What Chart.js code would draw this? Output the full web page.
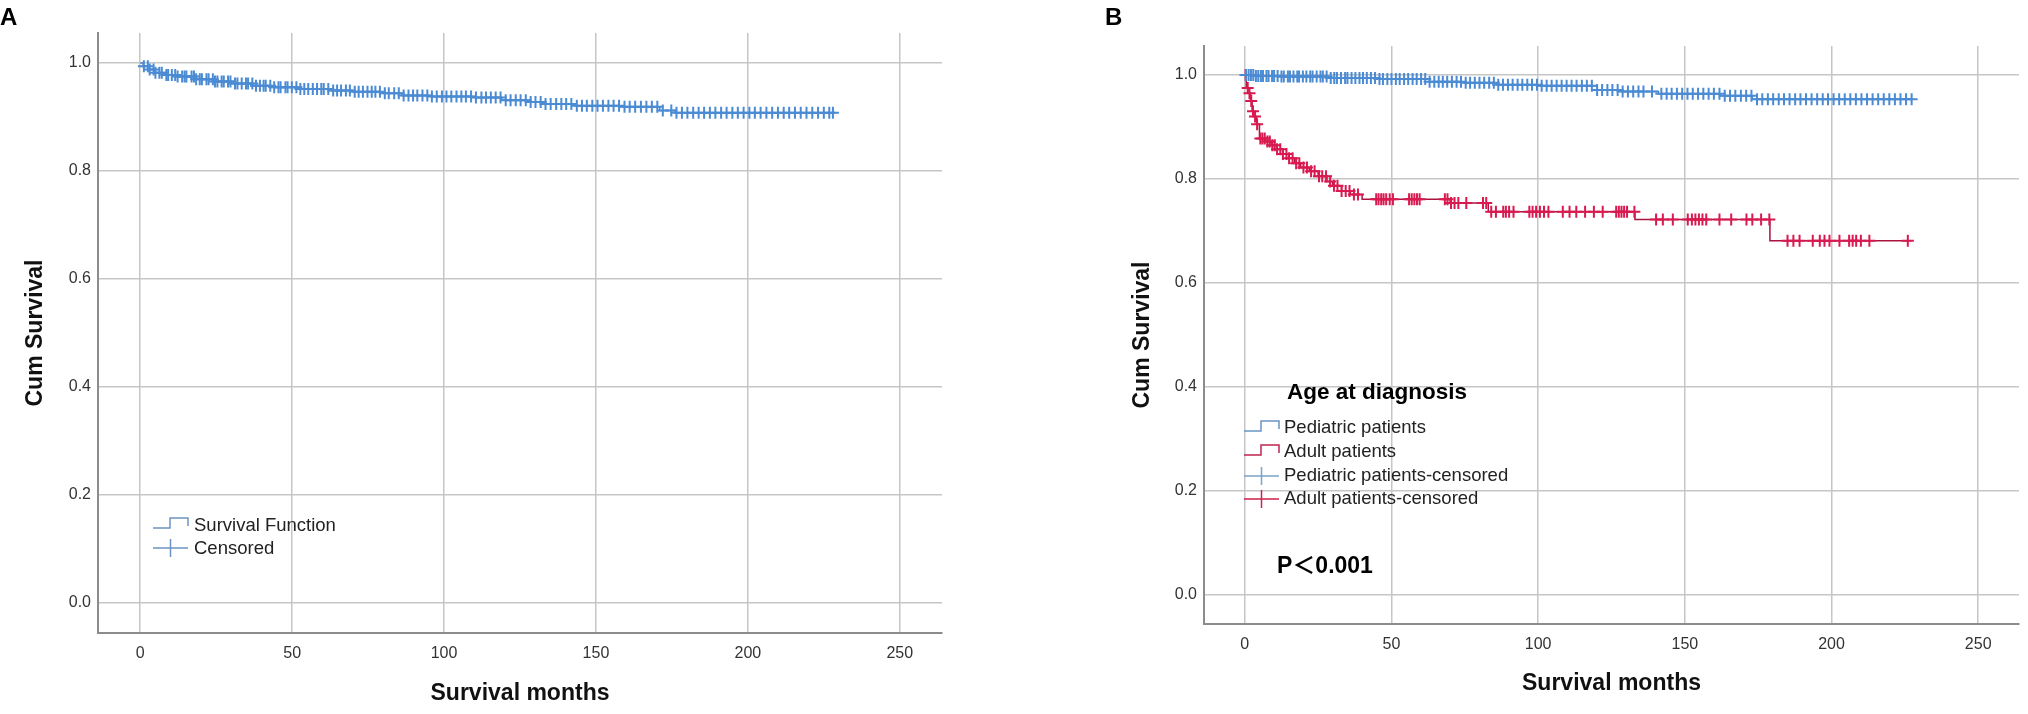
<!DOCTYPE html>
<html>
<head>
<meta charset="utf-8">
<script src="https://cdn.jsdelivr.net/npm/chart.js@4.4.1/dist/chart.umd.min.js"></script>
<style>
  body { margin: 0; background: #fff; width: 2028px; height: 714px; overflow: hidden; position: relative; }
  canvas { position: absolute; top: 0; }
  #cA { left: 0; }
  #cB { left: 1000px; }
</style>
</head>
<body>
<canvas id="cA" width="1000" height="714"></canvas>
<canvas id="cB" width="1028" height="714"></canvas>
<script>
// axis ticks
var monthTicks = [0, 50, 100, 150, 200, 250]
var survTicks = [0, 0.2, 0.4, 0.6, 0.8, 1.0]

// panel A - all patients (step points: time / survival after the drop)
var allTimes = [0, 1, 3, 5, 8, 12, 18, 24, 30, 37, 44, 52, 62, 70, 80, 86, 96, 110, 119, 128, 133, 143, 158, 171, 176, 228]
var allSurv = [1.0, 0.994, 0.988, 0.982, 0.978, 0.975, 0.970, 0.966, 0.962, 0.958, 0.955, 0.952, 0.949, 0.947, 0.944, 0.940, 0.938, 0.936, 0.931, 0.928, 0.924, 0.921, 0.919, 0.912, 0.908, 0.908]
var allCensor = [1.2, 2.5, 3.1, 4.4, 5.0, 6.3, 7.1, 8.6, 9.2, 10.4, 11.5, 12.3, 13.8, 14.6, 15.2, 16.9, 17.7, 18.4, 19.6, 20.3,
    21.8, 22.5, 23.9, 24.6, 25.4, 26.8, 27.5, 28.9, 29.7, 31.2, 32.0, 33.4, 34.8, 35.5, 36.9, 38.1, 39.4, 40.6, 41.3, 42.8,
    44.1, 45.5, 46.2, 47.8, 48.5, 49.9, 51.4, 52.7, 54.0, 55.3, 56.8, 58.2, 59.6, 60.4, 61.9, 63.5, 64.8, 66.1, 67.7, 69.0,
    70.6, 71.9, 73.3, 74.8, 76.2, 77.4, 78.9, 80.5, 81.8, 83.6, 85.1, 86.7, 88.3, 89.8, 91.2, 92.9, 94.5, 96.0, 97.6, 99.3,
    100.8, 102.4, 104.1, 105.7, 107.2, 108.9, 110.5, 112.3, 113.8, 115.4, 117.0, 118.6, 120.3, 121.9, 123.6, 125.2, 126.9,
    128.5, 130.1, 131.8, 133.4, 135.1, 136.9, 138.6, 140.2, 141.9, 143.7, 145.4, 147.0, 148.8, 150.5, 152.3, 154.1, 155.8,
    157.6, 159.4, 161.1, 162.9, 164.8, 166.6, 168.4, 170.2, 172.0, 174.8, 176.5, 178.3, 180.1, 182.0, 183.8, 185.6, 187.5,
    189.3, 191.2, 193.0, 194.9, 196.7, 198.6, 200.5, 202.3, 204.2, 206.1, 208.0, 209.9, 211.8, 213.6, 215.5, 217.4, 219.3,
    221.2, 223.1, 225.0, 226.8, 228.0]

// panel B - pediatric patients
var pedTimes = [0, 3, 12, 29, 45, 63, 75, 86, 100, 120, 128, 141, 162, 173, 228]
var pedSurv = [1.0, 0.998, 0.997, 0.994, 0.992, 0.987, 0.985, 0.981, 0.979, 0.971, 0.968, 0.964, 0.960, 0.953, 0.953]
var pedCensor = [0.4, 1.3, 2.1, 2.9, 3.8, 4.6, 5.5, 6.2, 7.4, 8.1, 9.3, 10.0, 11.2, 12.5, 13.3, 14.7, 15.4, 16.6, 17.9, 18.5,
    19.8, 21.0, 22.3, 23.1, 24.5, 25.8, 26.6, 27.9, 29.3, 30.5, 31.4, 32.8, 34.2, 35.0, 36.4, 37.7, 39.1, 40.3, 41.6, 43.0,
    44.4, 45.9, 47.1, 48.6, 50.0, 51.5, 52.8, 54.3, 55.7, 57.2, 58.6, 60.1, 61.5, 63.0, 64.6, 66.1, 67.5, 69.0, 70.6, 72.2,
    73.7, 75.3, 76.8, 78.4, 80.0, 81.6, 83.3, 84.9, 86.4, 88.0, 89.7, 91.3, 93.0, 94.6, 96.3, 97.9, 99.6, 101.2, 102.9,
    104.6, 106.3, 108.0, 109.7, 111.4, 113.1, 114.9, 116.6, 118.3, 120.1, 121.8, 123.6, 125.3, 127.1, 128.8, 130.6, 132.4,
    134.2, 135.9, 138.8, 142.0, 143.8, 145.5, 147.3, 149.1, 150.9, 152.7, 154.5, 156.3, 158.1, 159.9, 161.8, 163.6, 165.4,
    167.2, 169.1, 170.9, 172.7, 174.6, 176.4, 178.3, 180.1, 182.0, 183.8, 185.7, 187.6, 189.4, 191.3, 193.2, 195.1, 197.0,
    198.8, 200.7, 202.6, 204.5, 206.4, 208.3, 210.2, 212.1, 214.0, 215.9, 217.8, 219.7, 221.6, 223.5, 225.4, 227.3]

// panel B - adult patients
var adultTimes = [0, 0.5, 1.5, 2, 2.5, 3, 4, 5, 7, 9, 11, 13, 15, 17, 19, 22, 25, 28, 30, 33, 36, 40, 70, 83, 133, 179, 227]
var adultSurv = [1.0, 0.975, 0.965, 0.95, 0.93, 0.92, 0.905, 0.878, 0.872, 0.865, 0.857, 0.848, 0.84, 0.83, 0.822, 0.815, 0.805, 0.795, 0.787, 0.777, 0.77, 0.761, 0.754, 0.737, 0.722, 0.681, 0.681]
var adultCensor = [0.3, 1.0, 1.6, 2.2, 2.8, 3.5, 4.2, 5.3, 6.0, 6.8, 7.7, 8.5, 9.4, 10.2, 11.0, 12.1, 13.0, 14.2, 15.1, 16.3,
    17.5, 18.6, 20.0, 21.2, 22.6, 23.8, 25.3, 26.4, 27.7, 29.1, 30.4, 31.6, 33.0, 34.4, 35.7, 37.2, 38.6, 44.8, 45.6, 46.5,
    47.3, 48.2, 49.4, 50.5, 56.0, 56.9, 57.8, 58.7, 59.6, 68.2, 69.1, 70.3, 71.5, 72.8, 75.5, 81.2, 82.3, 84.0, 85.6, 88.1,
    89.0, 90.1, 91.6, 97.0, 98.1, 99.3, 100.6, 102.0, 103.5, 108.4, 110.7, 113.0, 116.0, 119.0, 122.0, 126.6, 127.5, 128.4,
    129.3, 130.3, 132.8, 140.2, 142.5, 145.9, 151.0, 152.4, 153.6, 154.8, 156.0, 157.3, 161.8, 165.8, 171.0, 173.0, 176.0,
    178.8, 185.0, 187.0, 189.1, 193.6, 196.0, 197.6, 199.3, 202.7, 206.0, 207.2, 208.4, 210.0, 212.9, 226.0]

var BLUE = '#4b8bd4'
var BLUE_LINE = '#4a82c4'
var RED = '#d81a50'
var RED_LINE = '#a8143f'
var FONT = '"Liberation Sans", Arial, sans-serif'

function stepPts(times, surv) {
    return times.map((t, i) => ({ x: t, y: surv[i] }))
}
// survival level at time t (value of the step curve)
function survAt(times, surv, t) {
    var v = surv[0]
    for (var i = 0; i < times.length; i++) {
        if (times[i] <= t) v = surv[i]
    }
    return v
}
function censorPts(times, surv, cens) {
    return cens.map(t => ({ x: t, y: survAt(times, surv, t) }))
}

function axes(yWidth, xHeight, yTitlePad, xTitlePad) {
    return {
        x: {
            type: 'linear', min: -13.9, max: 263.9,
            afterBuildTicks: s => { s.ticks = monthTicks.map(v => ({ value: v })) },
            afterFit: s => { s.height = xHeight },
            grid: { color: '#c6c6c6', lineWidth: 1.5, drawTicks: false },
            border: { display: true, color: '#8c8c8c', width: 2 },
            ticks: { color: '#333', font: { family: FONT, size: 16 }, padding: 11 },
            title: { display: true, text: 'Survival months', color: '#111',
                font: { family: FONT, size: 23, weight: 'bold' }, padding: { top: 0, bottom: xTitlePad } }
        },
        y: {
            type: 'linear', min: -0.0556, max: 1.0556,
            afterBuildTicks: s => { s.ticks = survTicks.map(v => ({ value: v })) },
            afterFit: s => { s.width = yWidth },
            grid: { color: '#c6c6c6', lineWidth: 1.5, drawTicks: false },
            border: { display: true, color: '#8c8c8c', width: 2 },
            ticks: { color: '#333', font: { family: FONT, size: 16 }, padding: 7,
                callback: v => v.toFixed(1) },
            title: { display: true, text: 'Cum Survival', color: '#111',
                font: { family: FONT, size: 23, weight: 'bold' }, padding: { top: yTitlePad, bottom: 0 } }
        }
    }
}

function stepIcon(ctx, x, y, color) {
    ctx.strokeStyle = color
    ctx.lineWidth = 1.5
    ctx.beginPath()
    ctx.moveTo(x, y + 5)
    ctx.lineTo(x + 17, y + 5)
    ctx.lineTo(x + 17, y - 5)
    ctx.lineTo(x + 35, y - 5)
    ctx.lineTo(x + 35, y + 3)
    ctx.stroke()
}
function crossIcon(ctx, x, y, color) {
    ctx.strokeStyle = color
    ctx.lineWidth = 1.5
    ctx.beginPath()
    ctx.moveTo(x, y)
    ctx.lineTo(x + 35, y)
    ctx.moveTo(x + 17.5, y - 9)
    ctx.lineTo(x + 17.5, y + 9)
    ctx.stroke()
}

var notesA = {
    id: 'notesA',
    afterDraw(chart) {
        var ctx = chart.ctx
        ctx.save()
        ctx.fillStyle = '#000'
        ctx.font = 'bold 24px ' + FONT
        ctx.textBaseline = 'alphabetic'
        ctx.fillText('A', 0, 25)
        stepIcon(ctx, 153, 523, '#6a94c4')
        crossIcon(ctx, 153, 548, '#6a94c4')
        ctx.fillStyle = '#222'
        ctx.font = '18.5px ' + FONT
        ctx.textBaseline = 'middle'
        ctx.fillText('Survival Function', 194, 526)
        ctx.fillText('Censored', 194, 549)
        ctx.restore()
    }
}

var notesB = {
    id: 'notesB',
    afterDraw(chart) {
        var ctx = chart.ctx
        ctx.save()
        ctx.fillStyle = '#000'
        ctx.font = 'bold 24px ' + FONT
        ctx.textBaseline = 'alphabetic'
        ctx.fillText('B', 105, 25)
        ctx.textBaseline = 'middle'
        ctx.font = 'bold 22.5px ' + FONT
        ctx.fillText('Age at diagnosis', 287, 393)
        stepIcon(ctx, 244, 426, '#6a94c4')
        stepIcon(ctx, 244, 450, '#c0264f')
        crossIcon(ctx, 244, 476, '#7aa4c8')
        crossIcon(ctx, 244, 499, '#d0204f')
        ctx.fillStyle = '#222'
        ctx.font = '18.5px ' + FONT
        ctx.fillText('Pediatric patients', 284, 428)
        ctx.fillText('Adult patients', 284, 452)
        ctx.fillText('Pediatric patients-censored', 284, 476)
        ctx.fillText('Adult patients-censored', 284, 499)
        ctx.fillStyle = '#000'
        ctx.font = 'bold 23px ' + FONT + ', "Noto Sans CJK SC"'
        ctx.fillText('P＜0.001', 277, 567)
        ctx.restore()
    }
}

function stepSet(label, pts, color) {
    return { label: label, data: pts, showLine: true, stepped: true, borderColor: color,
        borderWidth: 1.5, pointRadius: 0, order: 2 }
}
function censorSet(label, pts, color) {
    return { label: label, data: pts, showLine: false, pointStyle: 'cross', pointRadius: 6,
        borderColor: color, borderWidth: 2, backgroundColor: color, order: 1 }
}

new Chart(document.getElementById('cA'), {
    type: 'scatter',
    data: {
        datasets: [
            stepSet('Survival Function', stepPts(allTimes, allSurv), BLUE_LINE),
            censorSet('Censored', censorPts(allTimes, allSurv, allCensor), BLUE)
        ]
    },
    options: {
        responsive: false, animation: false,
        layout: { padding: { left: 0, right: 58, top: 33, bottom: 0 } },
        plugins: { legend: { display: false }, tooltip: { enabled: false } },
        scales: axes(98, 81, 22, 7)
    },
    plugins: [notesA]
})

new Chart(document.getElementById('cB'), {
    type: 'scatter',
    data: {
        datasets: [
            stepSet('Pediatric patients', stepPts(pedTimes, pedSurv), BLUE_LINE),
            stepSet('Adult patients', stepPts(adultTimes, adultSurv), RED_LINE),
            censorSet('Pediatric patients-censored', censorPts(pedTimes, pedSurv, pedCensor), BLUE),
            censorSet('Adult patients-censored', censorPts(adultTimes, adultSurv, adultCensor), RED)
        ]
    },
    options: {
        responsive: false, animation: false,
        layout: { padding: { left: 0, right: 9, top: 46, bottom: 0 } },
        plugins: { legend: { display: false }, tooltip: { enabled: false } },
        scales: axes(204, 90, 129, 17)
    },
    plugins: [notesB]
})
</script>
</body>
</html>
